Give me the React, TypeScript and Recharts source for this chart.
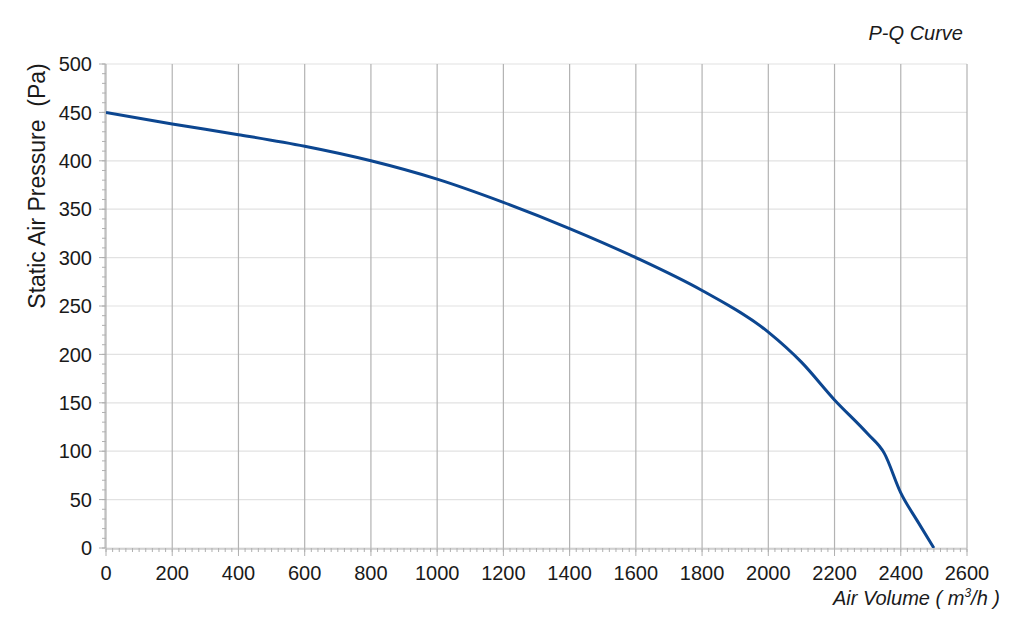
import React from 'react';
import { LineChart, Line, XAxis, YAxis, CartesianGrid } from 'recharts';

const airVolume = [0, 200, 400, 600, 800, 1000, 1200, 1400, 1600, 1800, 2000, 2100, 2200, 2300, 2350, 2400, 2450, 2500];
const pressure = [450, 438, 427, 415, 400, 381, 357, 330, 300, 266, 223, 192, 153, 118, 98, 57, 28, 0];

const xMajorTicks = [0, 200, 400, 600, 800, 1000, 1200, 1400, 1600, 1800, 2000, 2200, 2400, 2600];
const yMajorTicks = [0, 50, 100, 150, 200, 250, 300, 350, 400, 450, 500];
const xMinorTicks = Array.from({ length: 131 }, (_, i) => i * 20);
const yMinorTicks = Array.from({ length: 51 }, (_, i) => i * 10);

const data = airVolume.map((q, i) => ({ q, p: pressure[i] }));

const FONT = '"Liberation Sans", Arial, Helvetica, sans-serif';

const NoLabel = () => <g />;

export default function App() {
  return (
    <div style={{ position: 'absolute', left: 0, top: 0, width: 1024, height: 636, background: '#fff', fontFamily: FONT }}>
      <LineChart width={1024} height={636} data={data} margin={{ top: 64, right: 57, bottom: 47, left: 45 }}>
        <XAxis xAxisId="zmain" type="number" dataKey="q" domain={[0, 2600]} ticks={xMajorTicks} interval={0}
          tickSize={7} tickMargin={10} height={40} axisLine={{ stroke: '#b0b0b0' }} tickLine={{ stroke: '#b0b0b0' }}
          tick={{ fill: '#1a1a1a', fontSize: 20, fontFamily: FONT }} allowDataOverflow />
        <YAxis yAxisId="zmain" type="number" domain={[0, 500]} ticks={yMajorTicks} interval={0}
          tickSize={6} tickMargin={7} width={60} axisLine={{ stroke: '#b0b0b0' }} tickLine={{ stroke: '#b0b0b0' }}
          tick={{ fill: '#1a1a1a', fontSize: 20, fontFamily: FONT }} allowDataOverflow />
        <XAxis xAxisId="aminor" type="number" dataKey="q" domain={[0, 2600]} ticks={xMinorTicks} tick={NoLabel} interval={0}
          tickSize={4} axisLine={false} tickLine={{ stroke: '#b0b0b0' }} height={1} allowDataOverflow />
        <YAxis yAxisId="aminor" type="number" domain={[0, 500]} ticks={yMinorTicks} tick={NoLabel} interval={0}
          tickSize={4} axisLine={false} tickLine={{ stroke: '#b0b0b0' }} width={1} allowDataOverflow />
        <CartesianGrid xAxisId="zmain" yAxisId="zmain" vertical={false} stroke="#e2e2e2" strokeWidth={1.2} />
        <CartesianGrid xAxisId="zmain" yAxisId="zmain" horizontal={false} stroke="#b3b3b3" strokeWidth={1.2} />
        <Line xAxisId="zmain" yAxisId="zmain" type="monotone" dataKey="p" stroke="#0c4690" strokeWidth={3}
          dot={false} activeDot={false} isAnimationActive={false} />
      </LineChart>
      <div style={{ position: 'absolute', left: 37, top: 186, transform: 'translate(-50%, -50%) rotate(-90deg)',
        whiteSpace: 'pre', fontSize: 23, color: '#1a1a1a' }}>Static Air Pressure  (Pa)</div>
      <div style={{ position: 'absolute', right: 1024 - 963, top: 22, whiteSpace: 'pre', fontSize: 20,
        fontStyle: 'italic', color: '#1a1a1a' }}>P-Q Curve</div>
      <div style={{ position: 'absolute', right: 1024 - 1000, top: 587, whiteSpace: 'pre', fontSize: 20,
        fontStyle: 'italic', color: '#1a1a1a' }}>Air Volume ( m<sup style={{ fontSize: 12, verticalAlign: 'super', lineHeight: 0 }}>3</sup>/h )</div>
    </div>
  );
}
